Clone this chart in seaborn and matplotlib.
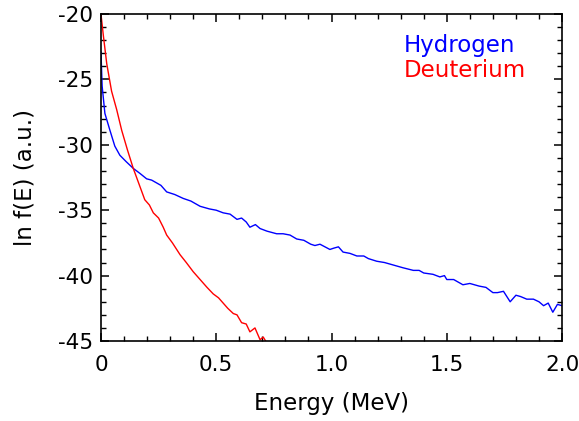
import numpy as np
import pandas as pd
import matplotlib
matplotlib.use("Agg")
import matplotlib.pyplot as plt
from matplotlib.ticker import MultipleLocator, FixedLocator
import seaborn as sns

# Data
h_energy = [0.0, 0.005, 0.017, 0.039, 0.06, 0.082, 0.11, 0.14, 0.17, 0.198, 0.22, 0.24, 0.26, 0.285,
            0.32, 0.357, 0.39, 0.43, 0.47, 0.5, 0.53, 0.56, 0.59, 0.61, 0.63, 0.646, 0.67, 0.69,
            0.72, 0.762, 0.79, 0.82, 0.849, 0.88, 0.91, 0.928, 0.95, 0.993, 1.01, 1.03, 1.05, 1.08,
            1.11, 1.14, 1.16, 1.196, 1.23, 1.27, 1.31, 1.355, 1.38, 1.40, 1.44, 1.47, 1.49, 1.50,
            1.53, 1.55, 1.57, 1.60, 1.64, 1.67, 1.70, 1.72, 1.746, 1.775, 1.80, 1.82, 1.847, 1.876,
            1.90, 1.92, 1.94, 1.96, 1.98, 2.0]
h_lnf = [-22.9, -25.5, -27.6, -28.9, -30.1, -30.8, -31.3, -31.8, -32.2, -32.6, -32.7, -32.9, -33.1, -33.6,
         -33.8, -34.1, -34.3, -34.7, -34.9, -35.0, -35.2, -35.3, -35.7, -35.6, -35.9, -36.3, -36.1, -36.4,
         -36.6, -36.8, -36.8, -36.9, -37.2, -37.3, -37.6, -37.7, -37.6, -38.0, -37.9, -37.8, -38.2, -38.3,
         -38.5, -38.5, -38.7, -38.9, -39.0, -39.2, -39.4, -39.6, -39.6, -39.8, -39.9, -40.1, -40.0, -40.3,
         -40.3, -40.5, -40.7, -40.6, -40.8, -40.9, -41.3, -41.3, -41.2, -42.0, -41.5, -41.6, -41.8, -41.8,
         -42.0, -42.3, -42.1, -42.8, -42.2, -42.3]

d_energy = [0.0, 0.01, 0.025, 0.046, 0.068, 0.09, 0.115, 0.14, 0.165, 0.19, 0.21, 0.227, 0.25, 0.27,
            0.285, 0.31, 0.343, 0.37, 0.40, 0.43, 0.46, 0.487, 0.51, 0.53, 0.55, 0.574, 0.59, 0.61,
            0.63, 0.646, 0.668, 0.69, 0.704, 0.716, 0.73]
d_lnf = [-20.0, -21.6, -23.8, -25.9, -27.3, -28.9, -30.4, -31.8, -33.0, -34.2, -34.6, -35.2, -35.6, -36.3,
         -36.9, -37.5, -38.4, -39.0, -39.7, -40.3, -40.9, -41.4, -41.7, -42.1, -42.5, -42.9, -43.0, -43.6,
         -43.7, -44.3, -44.0, -44.9, -44.7, -45.05, -45.4]

x_ticks = [0.0, 0.5, 1.0, 1.5, 2.0]
x_ticklabels = ["0", "0.5", "1.0", "1.5", "2.0"]
y_ticks = [-45, -40, -35, -30, -25, -20]
y_ticklabels = ["-45", "-40", "-35", "-30", "-25", "-20"]

df = pd.concat([
    pd.DataFrame({"Energy": h_energy, "lnf": h_lnf, "Isotope": "Hydrogen"}),
    pd.DataFrame({"Energy": d_energy, "lnf": d_lnf, "Isotope": "Deuterium"}),
], ignore_index=True)

sns.set_theme(style="ticks")
plt.rcParams["font.family"] = ["DejaVu Sans"]
plt.rcParams["axes.unicode_minus"] = False

fig, ax = plt.subplots(figsize=(5.79, 4.21), dpi=100)
fig.subplots_adjust(left=0.1744, right=0.9707, top=0.9667, bottom=0.190)

palette = {"Hydrogen": "#0000ff", "Deuterium": "#ff0000"}
sns.lineplot(data=df, x="Energy", y="lnf", hue="Isotope", palette=palette,
             linewidth=1.0, sort=False, estimator=None, legend=False, ax=ax)

ax.set_xlim(0, 2.0)
ax.set_ylim(-45, -20)
ax.xaxis.set_major_locator(FixedLocator(x_ticks))
ax.set_xticklabels(x_ticklabels)
ax.yaxis.set_major_locator(FixedLocator(y_ticks))
ax.set_yticklabels(y_ticklabels)
ax.xaxis.set_minor_locator(MultipleLocator(0.1))
ax.yaxis.set_minor_locator(MultipleLocator(1))

ax.tick_params(which="both", direction="in", top=True, right=True, color="black",
               labelsize=15.5, labelcolor="black")
ax.tick_params(which="major", length=6, width=1.1)
ax.tick_params(which="minor", length=3.5, width=1.0)
ax.tick_params(axis="x", which="major", pad=10)
ax.tick_params(axis="y", which="major", pad=6)
for s in ax.spines.values():
    s.set_color("black")
    s.set_linewidth(1.2)

ax.set_xlabel("Energy (MeV)", fontsize=16.5, color="black", labelpad=12)
ax.set_ylabel("ln f(E) (a.u.)", fontsize=16.5, color="black", labelpad=15)

ax.text(0.657, 0.884, "Hydrogen", color="#0000ff", fontsize=16.5, transform=ax.transAxes,
        ha="left", va="baseline")
ax.text(0.657, 0.807, "Deuterium", color="#ff0000", fontsize=16.5, transform=ax.transAxes,
        ha="left", va="baseline")

fig.savefig("out.png", dpi=100)
